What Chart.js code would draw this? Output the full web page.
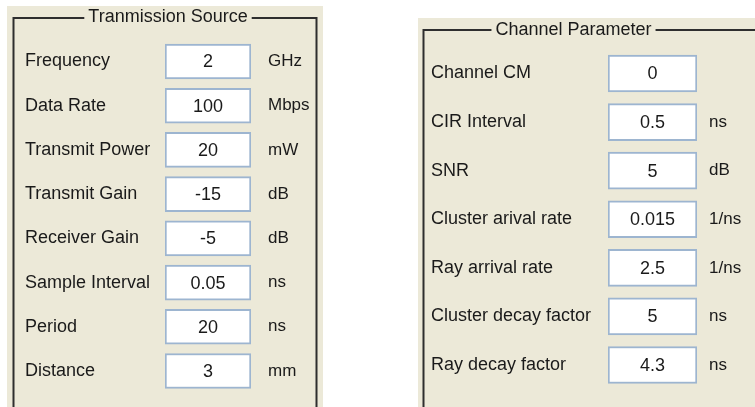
<!DOCTYPE html>
<html>
<head>
<meta charset="utf-8">
<title>Tranmission Source / Channel Parameter</title>
<script src="https://cdn.jsdelivr.net/npm/chart.js@4.4.1/dist/chart.umd.min.js"></script>
<style>
    html, body { margin: 0; padding: 0; background: #fff; }
    body { width: 755px; height: 407px; position: relative; overflow: hidden; }
    canvas { position: absolute; }
    #txChart { left: 7px; top: 6px; }
    #chChart { left: 418px; top: 18px; }
</style>
</head>
<body>
<canvas id="txChart" width="316" height="401"></canvas>
<canvas id="chChart" width="337" height="389"></canvas>
<script>
// ----- DATA ----- //
const txTitle = 'Tranmission Source';
const txLabels = ['Frequency', 'Data Rate', 'Transmit Power', 'Transmit Gain', 'Receiver Gain', 'Sample Interval', 'Period', 'Distance'];
const txValues = [2, 100, 20, -15, -5, 0.05, 20, 3];
const txUnits = ['GHz', 'Mbps', 'mW', 'dB', 'dB', 'ns', 'ns', 'mm'];

const chTitle = 'Channel Parameter';
const chLabels = ['Channel CM', 'CIR Interval', 'SNR', 'Cluster arival rate', 'Ray arrival rate', 'Cluster decay factor', 'Ray decay factor'];
const chValues = [0, 0.5, 5, 0.015, 2.5, 5, 4.3];
const chUnits = ['', 'ns', 'dB', '1/ns', '1/ns', 'ns', 'ns'];

const FONT = '"Liberation Sans", Arial, sans-serif';
const INK = '#1a1a1a';
const PANEL_BG = '#ECE9D8';

// group box: beige panel, dark frame and the title sitting in a gap of the top line
const groupBox = {
    id: 'groupBox',
    beforeDraw(chart, args, opts) {
        const ctx = chart.ctx;
        const w = chart.width, h = chart.height;
        ctx.save();
        ctx.fillStyle = PANEL_BG;
        ctx.fillRect(0, 0, w, h);
        ctx.strokeStyle = '#2e2e2e';
        ctx.lineWidth = 2;
        ctx.beginPath();
        ctx.moveTo(opts.left, h + 5);
        ctx.lineTo(opts.left, opts.top);
        ctx.lineTo(opts.right, opts.top);
        ctx.lineTo(opts.right, h + 5);
        ctx.stroke();
        ctx.font = `18px ${FONT}`;
        const tw = ctx.measureText(opts.title).width;
        ctx.fillRect(opts.titleX - tw / 2 - 4, opts.top - 3, tw + 8, 6);
        ctx.fillStyle = INK;
        ctx.textAlign = 'center';
        ctx.textBaseline = 'middle';
        ctx.fillText(opts.title, opts.titleX, opts.titleY);
        ctx.restore();
    }
};

function makePanel(canvasId, title, labels, values, units, lay) {
    // text inside each box, centred on the bar element
    const boxValues = {
        id: 'boxValues',
        afterDatasetsDraw(chart) {
            const ctx = chart.ctx;
            const meta = chart.getDatasetMeta(0);
            ctx.save();
            ctx.font = `18px ${FONT}`;
            ctx.fillStyle = INK;
            ctx.textAlign = 'center';
            ctx.textBaseline = 'middle';
            meta.data.forEach((bar, i) => {
                const { x, y, base } = bar.getProps(['x', 'y', 'base'], true);
                ctx.fillText(String(values[i]), (x + base) / 2, y + 1);
            });
            ctx.restore();
        }
    };

    return new Chart(document.getElementById(canvasId), {
        type: 'bar',
        data: {
            labels: labels,
            datasets: [{
                data: labels.map(() => [0, 1]),
                backgroundColor: '#ffffff',
                borderColor: '#9DB5D0',
                borderWidth: 2,
                borderSkipped: false,
                barThickness: lay.barThickness
            }]
        },
        options: {
            indexAxis: 'y',
            responsive: false,
            animation: false,
            devicePixelRatio: 1,
            layout: { padding: lay.padding },
            scales: {
                x: { type: 'linear', min: 0, max: 1, display: false },
                y: {
                    type: 'category',
                    offset: true,
                    grid: { display: false },
                    border: { display: false },
                    ticks: { crossAlign: 'far', autoSkip: false, padding: 0, color: INK, font: { family: FONT, size: 18 } },
                    afterFit: (s) => { s.width = lay.labelWidth; s.paddingTop = 0; s.paddingBottom = 0; }
                },
                y2: {
                    type: 'category',
                    position: 'right',
                    labels: units,
                    offset: true,
                    grid: { display: false },
                    border: { display: false },
                    ticks: { crossAlign: 'near', autoSkip: false, padding: lay.unitGap, color: INK, font: { family: FONT, size: 17 } },
                    afterFit: (s) => { s.width = lay.unitWidth; s.paddingTop = 0; s.paddingBottom = 0; }
                }
            },
            plugins: {
                legend: { display: false },
                tooltip: { enabled: false },
                groupBox: Object.assign({ title: title }, lay.frame)
            }
        },
        plugins: [groupBox, boxValues]
    });
}

document.addEventListener('DOMContentLoaded', function() {
    // ----- TRANSMISSION SOURCE ----- //
    makePanel('txChart', txTitle, txLabels, txValues, txUnits, {
        padding: { left: 18, top: 33.4, right: 0, bottom: 13.9 },
        labelWidth: 140,
        unitWidth: 72,
        unitGap: 9,
        barThickness: 35,
        frame: { left: 6.5, top: 12, right: 309.5, titleX: 161, titleY: 11.5 }
    });

    // ----- CHANNEL PARAMETER ----- //
    makePanel('chChart', chTitle, chLabels, chValues, chUnits, {
        padding: { left: 13, top: 31.2, right: 0, bottom: 17.7 },
        labelWidth: 177,
        unitWidth: 58,
        unitGap: 4,
        barThickness: 37,
        frame: { left: 5.5, top: 12, right: 345, titleX: 155.5, titleY: 11.8 }
    });
});
</script>
</body>
</html>
